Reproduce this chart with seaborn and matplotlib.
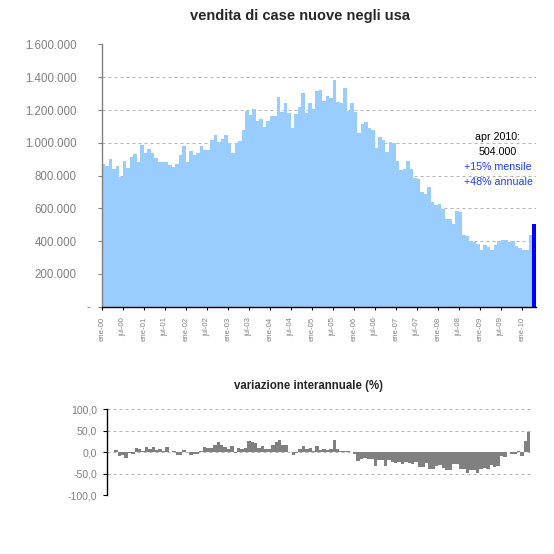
import numpy as np
import pandas as pd
import matplotlib

matplotlib.use("Agg")
import matplotlib.pyplot as plt
import matplotlib.ticker as mticker
from matplotlib.transforms import ScaledTranslation
import seaborn as sns

# vendite di case nuove (migliaia, dato annualizzato), ene-00 .. apr-10
vendite = [
    869, 858, 899, 842, 856, 792, 889, 846, 913, 929, 883, 986,
    937, 962, 937, 907, 883, 883, 883, 863, 852, 869, 925, 980,
    883, 949, 925, 937, 980, 955, 955, 1016, 1046, 1004, 1022, 1046,
    998, 937, 998, 1010, 1077, 1192, 1168, 1204, 1131, 1143, 1095, 1131,
    1162, 1162, 1277, 1186, 1240, 1180, 1089, 1174, 1216, 1307, 1180, 1240,
    1204, 1319, 1325, 1258, 1283, 1271, 1386, 1252, 1240, 1337, 1192, 1240,
    1186, 1058, 1113, 1125, 1089, 1077, 968, 1034, 1016, 943, 1004, 998,
    889, 832, 840, 889, 840, 786, 780, 701, 689, 731, 640, 622,
    628, 598, 537, 537, 507, 586, 580, 440, 434, 398, 392, 380,
    343, 374, 362, 343, 374, 398, 410, 410, 392, 398, 368, 356,
    349, 343, 440, 504,
]

# variazione interannuale (%)
var_annua = [
    0, 0, 5.6, -9.5, -5.6, -14, -2.4, -4.8, 9.5, 7, 3, 12.7,
    7, 12.7, 6.4, 8, 4, 12.7, 0, 3, -7, -7, 5.6, 0,
    -7, -3, -3, 2.4, 12.7, 9.5, 9.5, 17.5, 24.6, 18, 12.7, 8.7,
    15, -2.4, 9.5, 8.7, 10, 27, 24.6, 20.6, 10, 15, 8, 8,
    17.5, 24.6, 29.4, 17.5, 17.5, 0, -7, -2.4, 8, 15, 8, 10,
    3, 15, 5.6, 8, 5.6, 8, 29.4, 7, 3, 3, 3, 0,
    -4, -20, -16.7, -13.5, -16.7, -16.7, -31.8, -19, -19, -31.8, -19, -21.4,
    -23.8, -21.4, -27, -23, -23.8, -27, -21.4, -34, -34, -23.8, -39, -39,
    -31.8, -29.4, -36.5, -41, -41, -27, -27, -39, -39, -48.4, -41, -41,
    -48.4, -39, -36.5, -39, -29.4, -34, -31.8, -8, -10.3, 0, -4.8, -4.8,
    2.4, -9.5, 27, 48,
]

mesi = ["ene", "feb", "mar", "apr", "may", "jun", "jul", "ago", "sep", "oct", "nov", "dic"]
periodo = [f"{mesi[i % 12]}-{i // 12:02d}" for i in range(len(vendite))]

tick_labels = [
    "ene-00", "jul-00", "ene-01", "jul-01", "ene-02", "jul-02", "ene-03",
    "jul-03", "ene-04", "jul-04", "ene-05", "jul-05", "ene-06", "jul-06",
    "ene-07", "jul-07", "ene-08", "jul-08", "ene-09", "jul-09", "ene-10",
]

note = ["apr 2010:", "504.000", "+15% mensile", "+48% annuale"]

GREY = "#808080"

sns.set_style("white")
plt.rcParams["font.family"] = ["Liberation Sans", "DejaVu Sans"]

W = 554.0
fig = plt.figure(figsize=(5.54, 5.54), dpi=100)

# --- grafico principale ---
ax1 = fig.add_axes([101.7 / W, 1 - 306.7 / W, 434.0 / W, 262.2 / W])
df = pd.DataFrame({
    "mese": periodo,
    "vendite": np.array(vendite) * 1000,
    "tipo": ["storico"] * (len(vendite) - 1) + ["ultimo"],
})
sns.barplot(data=df, x="mese", y="vendite", hue="tipo",
            palette={"storico": "#99ccff", "ultimo": "#0000ff"},
            dodge=False, width=1.0, saturation=1, linewidth=0,
            legend=False, ax=ax1)
ax1.set_xlim(-0.5, len(vendite) - 0.5)
ax1.set_ylim(0, 1600000)
ax1.set_yticks(np.arange(0, 1600001, 200000))
ax1.yaxis.set_major_formatter(mticker.FuncFormatter(
    lambda v, _: "-" if v == 0 else f"{int(v):,}".replace(",", ".")))
ax1.set_xticks(np.arange(0, len(vendite), 6) - 0.5)
ax1.set_xticklabels(tick_labels, rotation=90)
ax1.set_xlabel("")
ax1.set_ylabel("")
ax1.set_axisbelow(True)
ax1.yaxis.grid(True, color="#b4b4b4", linewidth=0.72, linestyle=(0, (3, 3)))
for s in ["top", "right"]:
    ax1.spines[s].set_visible(False)
ax1.spines["left"].set_color(GREY)
ax1.spines["left"].set_linewidth(1.0)
ax1.spines["bottom"].set_color("black")
ax1.spines["bottom"].set_linewidth(1.0)
ax1.tick_params(axis="y", direction="out", left=True, length=3, width=0.8,
                color=GREY, pad=15, labelsize=8.3, labelcolor=GREY)
ax1.tick_params(axis="x", direction="out", bottom=True, length=2.5, width=0.8,
                color="black", pad=5, labelsize=5.6, labelcolor=GREY)
# il "-" dello zero sta piu' a destra
zero_lab = ax1.get_yticklabels()[0]
zero_lab.set_transform(zero_lab.get_transform() + ScaledTranslation(0.14, 0, fig.dpi_scale_trans))

# --- variazione interannuale ---
ax2 = fig.add_axes([107.3 / W, 1 - 495.3 / W, 423.2 / W, 86.0 / W])
df2 = pd.DataFrame({"mese": periodo, "var": var_annua})
sns.barplot(data=df2, x="mese", y="var", color=GREY, width=1.0,
            saturation=1, linewidth=0, ax=ax2)
ax2.set_xlim(-0.5, len(var_annua) - 0.5)
ax2.set_ylim(-100, 100)
ax2.set_yticks(np.arange(-100, 101, 50))
ax2.yaxis.set_major_formatter(mticker.FuncFormatter(
    lambda v, _: f"{v:.1f}".replace(".", ",")))
ax2.set_xticks([])
ax2.set_xlabel("")
ax2.set_ylabel("")
ax2.set_axisbelow(True)
ax2.yaxis.grid(True, color="#b4b4b4", linewidth=0.72, linestyle=(0, (3, 3)))
for s in ["top", "right", "bottom"]:
    ax2.spines[s].set_visible(False)
ax2.spines["left"].set_color("black")
ax2.spines["left"].set_linewidth(1.0)
ax2.tick_params(axis="y", direction="out", left=True, length=3, width=0.8,
                color="black", pad=4.5, labelsize=7.6, labelcolor=GREY)

# titoli
fig.text(300.5 / W, 1 - 16 / W, "vendita di case nuove negli usa",
         ha="center", va="center", fontsize=10.5, fontweight="bold")
fig.text(308 / W, 1 - 386 / W, "variazione interannuale (%)",
         ha="center", va="center", fontsize=8.3, fontweight="bold")

# nota sull'ultimo dato
note_y = [137.3, 152.0, 167.3, 182.3]
note_col = ["black", "black", "#1a3cff", "#1a3cff"]
for txt, y, c in zip(note, note_y, note_col):
    fig.text(498 / W, 1 - y / W, txt, ha="center", va="center",
             fontsize=7.7, color=c)

fig.savefig("out.png", dpi=100, facecolor="white")
